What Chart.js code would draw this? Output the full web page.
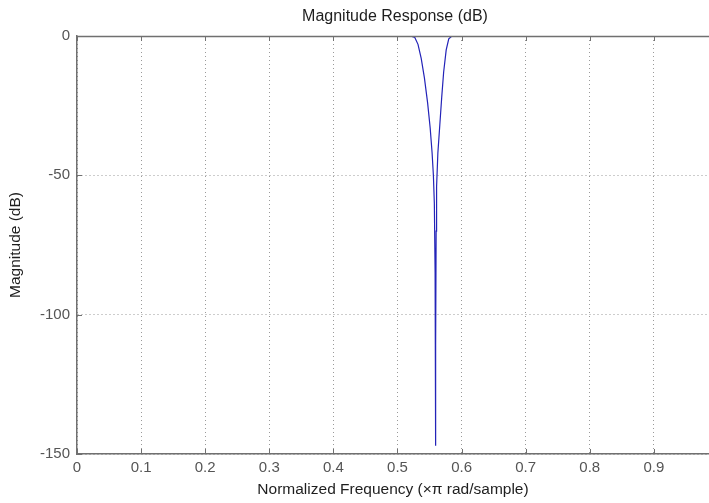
<!DOCTYPE html>
<html>
<head>
<meta charset="utf-8">
<title>Magnitude Response (dB)</title>
<script src="https://cdn.jsdelivr.net/npm/chart.js@4.4.0/dist/chart.umd.min.js"></script>
<style>
  html, body { margin: 0; padding: 0; background: #fff; overflow: hidden; }
</style>
</head>
<body>
<canvas id="magChart" width="709" height="503"></canvas>
<script>
// --- data ---
const freqs = [0, 0.52, 0.527, 0.532, 0.537, 0.542, 0.547, 0.551, 0.554, 0.556, 0.5575, 0.5587, 0.5592,
  0.5595, 0.5598, 0.5603, 0.561, 0.563, 0.566, 0.569, 0.572, 0.576, 0.580, 0.585, 0.986];
const magsDb = [0, 0, -0.5, -3, -8, -15, -24, -33, -42, -50, -60, -85, -112,
  -147, -111, -70, -54, -42, -32, -22, -13, -5, -1, 0, 0];
const xTicks = [0, 0.1, 0.2, 0.3, 0.4, 0.5, 0.6, 0.7, 0.8, 0.9];
const yTicks = [0, -50, -100, -150];
// the picture is cut off just before 1.0 on the right
const xVisibleMax = 0.986;

const TITLE = "Magnitude Response (dB)";
const X_LABEL = "Normalized Frequency (\u00d7\u03c0 rad/sample)";
const Y_LABEL = "Magnitude (dB)";

const FONT = "Liberation Sans, Arial, sans-serif";
const AXIS_COLOR = "#707070";

// titles, top border and inward tick marks (matlab style)
const decorations = {
  id: "decorations",
  afterDraw(chart) {
    const { ctx, chartArea: a, scales: { x, y } } = chart;
    ctx.save();
    ctx.strokeStyle = AXIS_COLOR;
    ctx.lineWidth = 1.5;
    ctx.beginPath();
    ctx.moveTo(a.left, a.top + 0.5);
    ctx.lineTo(chart.width, a.top + 0.5);
    ctx.stroke();
    ctx.lineWidth = 1;
    ctx.beginPath();
    xTicks.forEach(v => {
      const px = Math.round(x.getPixelForValue(v)) + 0.5;
      ctx.moveTo(px, a.bottom); ctx.lineTo(px, a.bottom - 5);
      ctx.moveTo(px, a.top); ctx.lineTo(px, a.top + 5);
    });
    yTicks.forEach(v => {
      const py = Math.round(y.getPixelForValue(v)) + 0.5;
      ctx.moveTo(a.left, py); ctx.lineTo(a.left + 5, py);
    });
    ctx.stroke();

    ctx.fillStyle = "#1e1e1e";
    ctx.textAlign = "center";
    ctx.textBaseline = "middle";
    ctx.font = "16px " + FONT;
    ctx.fillText(TITLE, 395, 17);
    ctx.font = "15.5px " + FONT;
    ctx.fillText(X_LABEL, 393, 490);
    ctx.translate(16, (a.top + a.bottom) / 2);
    ctx.rotate(-Math.PI / 2);
    ctx.fillText(Y_LABEL, 0, 0);
    ctx.restore();
  }
};

new Chart(document.getElementById("magChart"), {
  type: "line",
  data: {
    datasets: [{
      data: freqs.map((f, i) => ({ x: f, y: magsDb[i] })),
      borderColor: "#2323b8",
      borderWidth: 1.2,
      pointRadius: 0,
      tension: 0,
      fill: false
    }]
  },
  options: {
    responsive: false,
    animation: false,
    layout: { padding: { top: 36, right: 0, bottom: 0, left: 0 } },
    plugins: { legend: { display: false }, tooltip: { enabled: false } },
    scales: {
      x: {
        type: "linear",
        min: 0,
        max: xVisibleMax,
        afterFit: s => { s.height = 49; },
        afterBuildTicks: s => { s.ticks = xTicks.map(v => ({ value: v })); },
        ticks: {
          padding: 5,
          color: "#555",
          font: { family: FONT, size: 15 },
          maxRotation: 0,
          autoSkip: false,
          callback: v => String(v)
        },
        grid: { color: "#9a9a9a", lineWidth: 1, drawTicks: false },
        border: { color: AXIS_COLOR, width: 1.5, dash: [1, 3] }
      },
      y: {
        type: "linear",
        min: -150,
        max: 0,
        afterFit: s => { s.width = 77; },
        afterBuildTicks: s => { s.ticks = yTicks.map(v => ({ value: v })); },
        ticks: {
          padding: 7,
          color: "#555",
          font: { family: FONT, size: 15 },
          callback: v => String(v)
        },
        grid: { color: "#9a9a9a", lineWidth: 1, drawTicks: false },
        border: { color: AXIS_COLOR, width: 1.5, dash: [1, 3] }
      }
    }
  },
  plugins: [decorations]
});
</script>
</body>
</html>
